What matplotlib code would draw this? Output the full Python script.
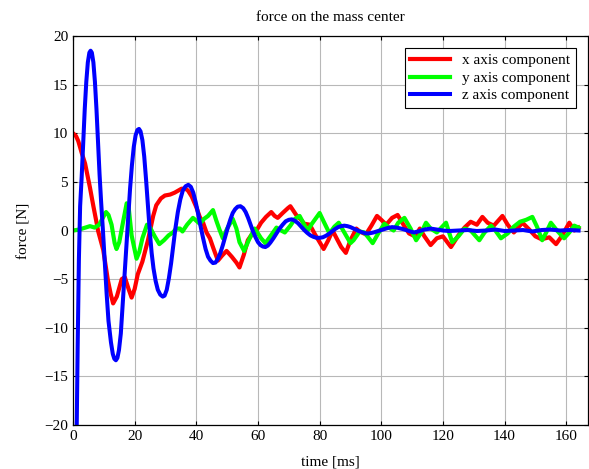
import matplotlib
matplotlib.use('Agg')
import matplotlib.pyplot as plt

plt.rcParams['font.family'] = ['Liberation Serif', 'DejaVu Serif']
plt.rcParams['axes.unicode_minus'] = True

# force components, time in ms, force in N
t_x = [0, 1, 1.7, 2.8, 3.9, 5.5, 6.6, 7.7, 8.1, 9.8, 11.3, 12.2, 13, 14.2, 15.8, 16.8,
       18, 19, 20, 21, 22.5, 24.3, 25, 26, 27, 28.5, 29.8, 31.5, 33, 35.2, 36.5, 37.3,
       38.5, 40, 41.1, 42.2, 43.3, 44.4, 45.5, 47, 48.3, 49.8, 51.5, 53, 54, 55.4,
       56.7, 58, 59.5, 61, 62.6, 64.3, 65.4, 66.4, 68, 69.7, 70.5, 72.4, 74, 75, 76.8,
       78.5, 80, 81.3, 82.8, 84.2, 85.5, 87, 88.5, 90, 91.9, 93, 95, 96.8, 98.6, 100,
       101.6, 103.5, 105.3, 107, 109, 111, 112.5, 114, 116, 118, 120, 122.6, 125, 127,
       129, 131, 132.8, 134.5, 136.5, 139.3, 141, 143, 145.8, 148, 150, 152, 154.5,
       156.7, 158.5, 161, 162.6, 164]
force_x = [10, 9.7, 9.2, 8, 6.9, 4.4, 2.5, 0.7, 0, -2, -5.1, -6.5, -7.5, -6.8, -5, -4.8,
           -6, -6.9, -6, -4.5, -3.2, -1, 0, 1.5, 2.6, 3.3, 3.6, 3.7, 3.9, 4.3, 4.3, 4.1,
           3.5, 2.4, 1.4, 0.8, -0.2, -0.8, -1.8, -3.1, -2.6, -2.1, -2.7, -3.3, -3.8, -2.5,
           -1.0, -0.4, 0, 0.8, 1.4, 1.9, 1.5, 1.3, 1.8, 2.3, 2.5, 1.6, 1.1, 0.7, 0.6,
           -0.4, -1.2, -1.9, -1.0, 0, -0.8, -1.7, -2.3, -1.0, 0.2, -0.1, -0.4, 0.5, 1.5, 1.1,
           0.6, 1.3, 1.6, 0.7, -0.3, -0.6, 0.2, -0.6, -1.5, -0.8, -0.6, -1.7, -0.5, 0.3,
           0.9, 0.6, 1.4, 0.8, 0.5, 1.5, 0.6, -0.2, 0.8, 0.1, -0.6, -0.9, -0.7,
           -1.4, -0.6, 0.8, 0.0, 0.3]

t_y = [0, 2, 4, 5.5, 7, 8.5, 10, 10.7, 11.5, 12.5, 13.5, 14.1, 15, 16, 17.4, 18, 19,
       20.6, 21.5, 22.5, 24, 25, 26.5, 28, 29.5, 31, 32.4, 33.5, 34.7, 35.5, 37, 38.9,
       40, 41.1, 42.5, 43.8, 45.4, 46.5, 47.5, 48.6, 50, 51.8, 53, 54, 55.5, 57, 58.9,
       60, 61, 62.4, 64, 66, 67.5, 68.7, 70.5, 72, 73.5, 75, 76.1, 77.5, 80, 81.5, 83.2,
       84.8, 86.2, 88, 90, 91, 93, 94.5, 96, 97.2, 99, 101, 102.5, 104, 105.5, 107.5,
       109.5, 111.3, 113, 114.5, 116, 118, 121, 123, 125, 127, 129, 131.8, 133.5, 135.6,
       137, 138.8, 141, 143, 145, 147, 149, 150.5, 152.2, 153.5, 155, 157, 159.3, 161,
       162.6, 164]
force_y = [0, 0.1, 0.3, 0.45, 0.3, 0.6, 1.5, 1.9, 1.6, 0.6, -1.3, -1.9, -1.2, 0.5, 2.8,
           2.5, -0.5, -2.9, -2.2, -0.8, 0.6, 0.3, -0.6, -1.4, -1.0, -0.5, -0.2, 0.2, 0.2,
           -0.1, 0.6, 1.3, 1.0, 0.7, 1.2, 1.5, 2.1, 1.0, 0.1, -0.8, 0.2, 1.2, 0.2, -1.2,
           -2.1, -1.0, 0.2, -0.3, -0.8, -1.3, -0.6, 0.3, 0.0, -0.2, 0.5, 1.2, 1.5, 0.6,
           0.0, 0.7, 1.8, 0.8, -0.3, 0.4, 0.8, -0.2, -1.3, -1.0, -0.1, -0.2, -0.8, -1.3,
           -0.3, 0.7, 0.3, 0.0, 0.8, 1.3, 0.2, -1.0, -0.2, 0.8, 0.2, -0.2, 0.8, -1.2, -0.6,
           0.2, 0.0, -1.0, -0.2, 0.5, 0.0, -0.8, -0.3, 0.4, 0.9, 1.1, 1.4, 0.4, -1.0,
           -0.2, 0.8, 0.0, -0.8, -0.2, 0.5, 0.3]

t_z = [0, 0.8, 1.2, 1.5, 1.9, 2.3, 2.8, 3.3, 3.8, 4.3, 4.8, 5.3, 5.7, 6.1, 6.6, 7.1,
       7.6, 8.1, 8.6, 9.1, 9.7, 10.3, 10.9, 11.5, 12.3, 12.9, 13.4, 13.9, 14.4, 14.9,
       15.5, 16.1, 16.7, 17.3, 17.9, 18.5, 19.1, 19.7, 20.3, 20.9, 21.4, 21.9, 22.5,
       23.1, 23.7, 24.3, 24.9, 25.5, 26.1, 26.8, 27.5, 28.3, 29.1, 29.7, 30.4, 31.1,
       31.8, 32.5, 33.2, 34, 34.8, 35.6, 36.5, 37.4, 38.2, 39, 39.8, 40.6, 41.4, 42.2,
       43, 43.8, 44.6, 45.4, 46.2, 47, 47.8, 48.6, 49.4, 50.2, 51, 51.8, 52.6, 53.4,
       54.3, 55.2, 56, 56.8, 57.6, 58.4, 59.2, 60, 60.8, 61.6, 62.4, 63.2, 64, 65, 66,
       67, 68, 69, 70, 71, 72, 73, 74, 75, 76, 77, 78, 79, 80, 81, 82, 83, 84, 85, 86,
       87, 88, 89, 90, 91, 92, 93, 94, 95, 96, 97.5, 99, 100.5, 102, 103.5, 105, 107,
       109, 110.5, 112, 114, 116, 118, 120, 122, 125, 128, 131, 134, 137, 140, 143,
       146, 149, 152, 155, 158, 161, 164]
force_z = [-45, -28, -20, -12, -3, 2.5, 5.5, 9, 12.5, 15.3, 17.3, 18.3, 18.5, 18.3, 17.3,
           15.3, 12.5, 9.2, 5.8, 3.0, 0, -3.3, -6.5, -9.3, -11.5, -12.7, -13.2, -13.35,
           -13.1, -12.3, -10.6, -7.6, -4.6, -1.6, 1.5, 4.3, 6.7, 8.6, 9.8, 10.35, 10.45,
           10.2, 9.3, 7.6, 5.2, 2.5, -0.1, -2.3, -3.9, -5.2, -6.1, -6.6, -6.8, -6.7, -6.1,
           -4.9, -3.4, -1.6, 0.2, 1.9, 3.2, 4.1, 4.55, 4.7, 4.5, 3.9, 2.9, 1.7, 0.4, -0.8,
           -1.9, -2.7, -3.1, -3.35, -3.3, -2.9, -2.3, -1.5, -0.6, 0.3, 1.1, 1.8, 2.2, 2.45,
           2.5, 2.3, 1.9, 1.3, 0.6, -0.1, -0.7, -1.2, -1.5, -1.65, -1.7, -1.55, -1.25, -0.8,
           -0.3, 0.2, 0.6, 0.95, 1.1, 1.15, 1.0, 0.75, 0.4, 0.05, -0.25, -0.5, -0.65, -0.75,
           -0.75, -0.7, -0.55, -0.35, -0.1, 0.15, 0.35, 0.45, 0.5, 0.45, 0.35, 0.2, 0.05,
           -0.1, -0.2, -0.3, -0.3, -0.2, -0.05, 0.1, 0.25, 0.35, 0.3, 0.15, -0.05, -0.2,
           -0.1, 0.1, 0.2, 0.1, 0.0, -0.05, 0.0, 0.05, -0.05, 0.0, 0.1, -0.05, 0.0, 0.05,
           -0.1, 0.05, 0.1, 0.0, 0.05, 0.0]

labels = ['x axis component', 'y axis component', 'z axis component']

fig = plt.figure(figsize=(5.89, 4.69), dpi=100)
ax = fig.add_axes([0.124, 0.094, 0.874, 0.829])

ax.plot(t_x, force_x, color=(1, 0, 0), lw=3.0, label=labels[0])
ax.plot(t_y, force_y, color=(0, 1, 0), lw=3.0, label=labels[1])
ax.plot(t_z, force_z, color=(0, 0, 1), lw=2.9, label=labels[2])

ax.set_xlim(0, 167)
ax.set_ylim(-20, 20)
ax.set_xticks(range(0, 161, 20))
ax.set_yticks(range(-20, 21, 5))
ax.grid(True, color='#b8b8b8', lw=0.8)
ax.set_axisbelow(True)
ax.tick_params(direction='in', top=True, right=True, length=3, labelsize=11)
for s in ax.spines.values():
    s.set_linewidth(0.9)

ax.set_title('force on the mass center', fontsize=11, pad=11)
ax.set_xlabel('time [ms]', fontsize=11, labelpad=9)
ax.set_ylabel('force [N]', fontsize=11, labelpad=10)

leg = ax.legend(loc='upper right', fontsize=11, fancybox=False, framealpha=1,
                edgecolor='black', handlelength=2.6, borderpad=0.35,
                labelspacing=0.25, borderaxespad=0.8)
leg.get_frame().set_linewidth(0.8)

fig.savefig('out.png', dpi=100)
